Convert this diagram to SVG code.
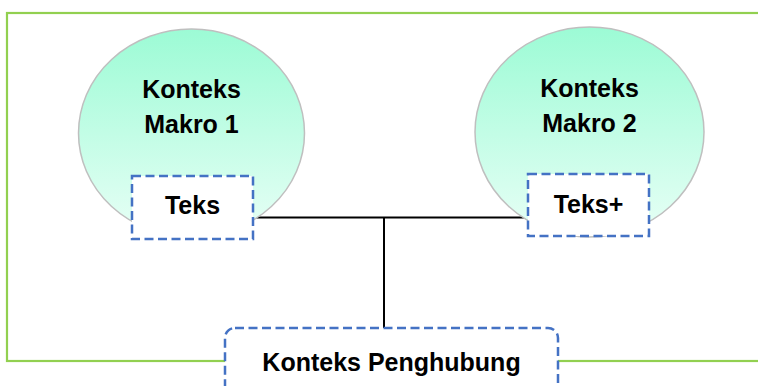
<svg xmlns="http://www.w3.org/2000/svg" width="758" height="386" viewBox="0 0 758 386">
  <defs>
    <linearGradient id="macroFill" x1="0" y1="0" x2="0" y2="1">
      <stop offset="0" stop-color="#9cfbd5"/>
      <stop offset="1" stop-color="#e8fff6"/>
    </linearGradient>
    <style>
      .frame { fill: none; stroke: #92d050; stroke-width: 2.2; }
      .macro { fill: url(#macroFill); stroke: #bfbfbf; stroke-width: 1.5; }
      .box { fill: #ffffff; stroke: #4472c4; stroke-width: 2.5; stroke-dasharray: 9 4.5; }
      .link { fill: none; stroke: #000000; stroke-width: 2; }
      .label { font-family: "Liberation Sans", Arial, sans-serif; font-weight: bold; font-size: 25px; fill: #000000; text-anchor: middle; }
    </style>
  </defs>

  <!-- outer frame, open past the right edge -->
  <rect class="frame" x="7" y="13" width="780" height="348"/>

  <!-- connectors -->
  <g id="connectors">
    <line class="link" x1="253" y1="217.5" x2="528" y2="217.5"/>
    <line class="link" x1="384" y1="217.5" x2="384" y2="328"/>
  </g>

  <g id="makro1">
    <ellipse class="macro" cx="191.5" cy="133" rx="113" ry="104"/>
    <text class="label" x="191.5" y="98">Konteks</text>
    <text class="label" x="191.5" y="133">Makro 1</text>
  </g>

  <g id="makro2">
    <ellipse class="macro" cx="589.5" cy="132" rx="114.5" ry="105"/>
    <text class="label" x="589.5" y="97">Konteks</text>
    <text class="label" x="589.5" y="132">Makro 2</text>
  </g>

  <g id="teks">
    <rect class="box" x="132" y="176" width="121" height="63"/>
    <text class="label" x="192.5" y="214">Teks</text>
  </g>

  <g id="teks-plus">
    <rect class="box" x="528" y="174" width="121" height="62"/>
    <text class="label" x="588.5" y="213">Teks+</text>
  </g>

  <g id="penghubung">
    <rect class="box" x="225" y="328" width="333" height="80" rx="10" ry="10"/>
    <text class="label" x="391.5" y="371">Konteks Penghubung</text>
  </g>
</svg>
